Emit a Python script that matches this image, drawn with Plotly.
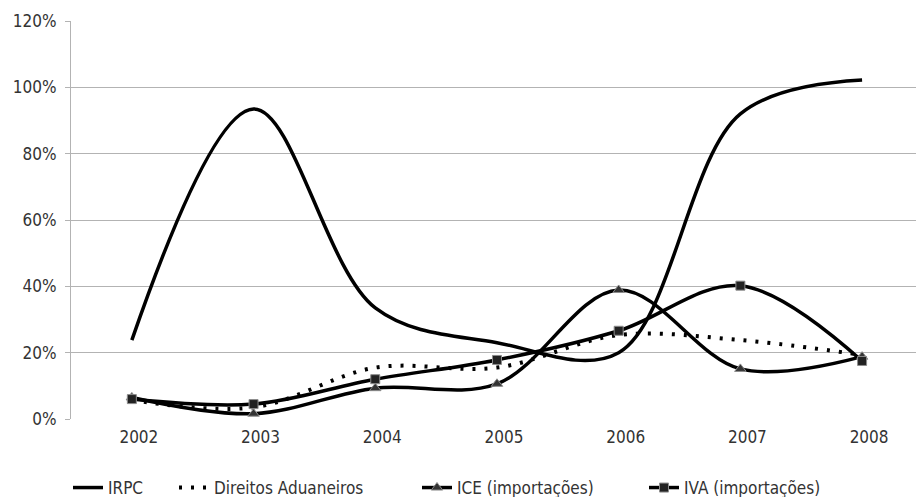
import plotly.graph_objects as go

years = ["2002", "2003", "2004", "2005", "2006", "2007", "2008"]
irpc = [0.238, 0.935, 0.335, 0.23, 0.20, 0.92, 1.022]
direitos = [0.057, 0.035, 0.155, 0.155, 0.253, 0.238, 0.193]
ice = [0.065, 0.016, 0.093, 0.106, 0.389, 0.151, 0.188]
iva = [0.06, 0.045, 0.12, 0.178, 0.266, 0.402, 0.175]
y_ticks = [0, 0.2, 0.4, 0.6, 0.8, 1.0, 1.2]
y_labels = ["0%", "20%", "40%", "60%", "80%", "100%", "120%"]

FONT = "DejaVu Sans Condensed, Liberation Sans Narrow, sans-serif"
TXT = "#333333"
GRID = "#b3b3b3"

fig = go.Figure()
fig.add_trace(go.Scatter(x=years, y=irpc, name="IRPC", mode="lines",
                         line=dict(color="black", width=3.5, shape="spline", smoothing=1.0),
                         legend="legend"))
fig.add_trace(go.Scatter(x=years, y=direitos, name="Direitos Aduaneiros", mode="lines",
                         line=dict(color="black", width=4, dash="3px,9px", shape="spline", smoothing=1.0),
                         legend="legend2"))
fig.add_trace(go.Scatter(x=years, y=ice, name="ICE (importações)", mode="lines+markers",
                         line=dict(color="black", width=3.5, shape="spline", smoothing=1.0),
                         marker=dict(symbol="triangle-up", size=10, color="#333333",
                                     line=dict(color="#8c8c8c", width=1)),
                         legend="legend3"))
fig.add_trace(go.Scatter(x=years, y=iva, name="IVA (importações)", mode="lines+markers",
                         line=dict(color="black", width=3.5, shape="spline", smoothing=1.0),
                         marker=dict(symbol="square", size=9, color="#222222",
                                     line=dict(color="#8c8c8c", width=1)),
                         legend="legend4"))

leg_common = dict(orientation="h", xref="container", yref="container", yanchor="middle",
                  xanchor="left", y=(497 - 488) / 497, font=dict(family=FONT, size=17, color=TXT),
                  bgcolor="rgba(0,0,0,0)", borderwidth=0)
lx = [68, 174, 417, 644]
fig.update_layout(
    width=916, height=497,
    margin=dict(l=71, r=0, t=21, b=78, autoexpand=False),
    plot_bgcolor="white", paper_bgcolor="white",
    font=dict(family=FONT, size=17, color=TXT),
    legend=dict(leg_common, x=lx[0] / 916),
    legend2=dict(leg_common, x=lx[1] / 916),
    legend3=dict(leg_common, x=lx[2] / 916),
    legend4=dict(leg_common, x=lx[3] / 916),
    showlegend=True,
)
fig.update_xaxes(type="category", range=[-0.5, 6.443], showgrid=False,
                 showline=False, ticks="", tickfont=dict(family=FONT, size=17, color=TXT),
                 ticklabelshift=7, ticklabelstandoff=6, automargin=False)
fig.update_yaxes(range=[0, 1.2], tickvals=y_ticks, ticktext=y_labels,
                 showgrid=True, gridcolor=GRID, gridwidth=1,
                 showline=True, linecolor=GRID, linewidth=1,
                 ticks="outside", ticklen=5, tickcolor=GRID,
                 tickfont=dict(family=FONT, size=17, color=TXT),
                 ticklabelstandoff=5, zeroline=False, automargin=False)

fig.write_html("out.html", config={"displayModeBar": False},
               post_script="document.body.style.margin='0';document.body.style.overflow='hidden';")
